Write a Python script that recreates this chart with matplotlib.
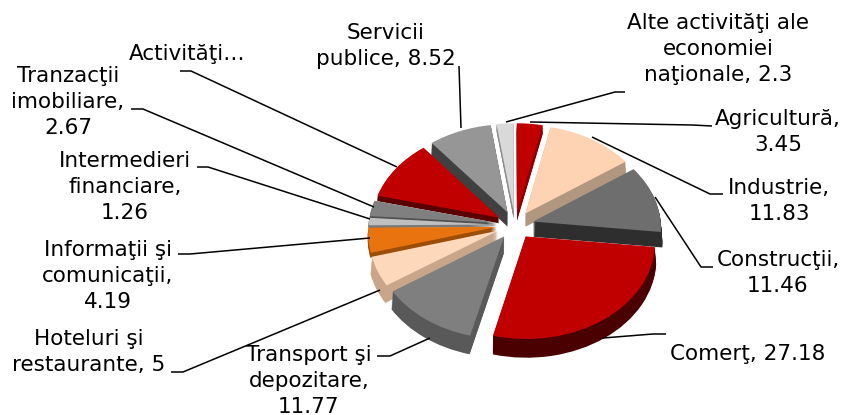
import matplotlib
matplotlib.use("Agg")
import matplotlib.pyplot as plt
from matplotlib.transforms import Transform
import numpy as np

# Data
categories = ["Agricultură", "Industrie", "Construcţii", "Comerţ", "Transport şi depozitare",
              "Hoteluri şi restaurante", "Informaţii şi comunicaţii", "Intermedieri financiare",
              "Tranzacţii imobiliare", "Activităţi…", "Servicii publice",
              "Alte activităţi ale economiei naţionale"]
values = [3.45, 11.83, 11.46, 27.18, 11.77, 5, 4.19, 1.26, 2.67, 10.37, 8.52, 2.3]
label_texts = ["Agricultură,\n3.45", "Industrie,\n11.83", "Construcţii,\n11.46", "Comerţ, 27.18",
               "Transport şi\ndepozitare,\n11.77", "Hoteluri şi\nrestaurante, 5",
               "Informaţii şi\ncomunicaţii,\n4.19", "Intermedieri\nfinanciare,\n1.26",
               "Tranzacţii\nimobiliare,\n2.67", "Activităţi…", "Servicii\npublice, 8.52",
               "Alte activităţi ale\neconomiei\nnaţionale, 2.3"]
top_colors = ["#C00000", "#FDD3B3", "#6E6E6E", "#C00000", "#7F7F7F", "#FDD8BA",
              "#E8730F", "#BFBFBF", "#808080", "#C00000", "#969696", "#D9D9D9"]
side_colors = ["#8E0000", "#B19680", "#2E2E2E", "#4A0000", "#595959", "#C9A68A",
               "#9C4E08", "#7A7A7A", "#4F4F4F", "#5A0000", "#404040", "#8C8C8C"]
depths = [10, 14, 16, 17, 17, 17, 5, 3, 3, 6, 15, 8]

# Layout (pixels)
W, H = 841, 415
CX, CY, RX, RY = 515, 225, 128, 95
EXPLODE = 0.145
PERSP = 0.06
label_pos = [(778, 132), (779, 201), (778, 273), (748, 354), (309, 381), (89, 352),
             (108, 276), (125, 187), (68, 102), (187, 54), (386, 46), (718, 49)]
leaders = [[(530, 122), (692, 125), (712, 126)],
           [(592, 137), (710, 194), (723, 194)],
           [(655, 197), (701, 267), (713, 267)],
           [(603, 338), (653, 334), (666, 334)],
           [(430, 338), (390, 356), (377, 356)],
           [(380, 290), (183, 372), (171, 372)],
           [(370, 238), (190, 254), (178, 254)],
           [(370, 219), (208, 167), (197, 167)],
           [(374, 207), (143, 109), (131, 109)],
           [(397, 167), (191, 71), (180, 71)],
           [(461, 128), (459, 66)],
           [(506, 122), (615, 92), (625, 92)]]


class Perspective(Transform):
    input_dims = output_dims = 2
    is_separable = False
    has_inverse = False

    def __init__(self, p):
        super().__init__()
        self.p = p

    def transform_non_affine(self, values):
        v = np.asarray(values, dtype=float)
        w = 1 + self.p * v[:, 1]
        return np.column_stack([v[:, 0] / w, v[:, 1] / w])


fig = plt.figure(figsize=(W / 100, H / 100), dpi=100, facecolor="white")
ax = fig.add_axes([0, 0, 1, 1])
proj = Perspective(PERSP) + ax.transData
explode = [EXPLODE] * len(values)
for d in range(max(depths), 0, -1):
    layer = [side_colors[i] if d <= depths[i] else "none" for i in range(len(values))]
    ax.pie(values, explode=explode, colors=layer, startangle=90, counterclock=False,
           center=(0, -d / 100), radius=1,
           wedgeprops={"linewidth": 0.6, "edgecolor": "none", "transform": proj})
ax.pie(values, explode=explode, colors=top_colors, startangle=90, counterclock=False,
       center=(0, 0), radius=1, wedgeprops={"linewidth": 0, "transform": proj})
ax.set_aspect("auto")
ax.set_xlim(-CX / RX, (W - CX) / RX)
ax.set_ylim(-(H - CY) / RY, CY / RY)
ax.axis("off")

ov = fig.add_axes([0, 0, 1, 1], facecolor="none")
ov.set_xlim(0, W)
ov.set_ylim(H, 0)
ov.axis("off")
for pts in leaders:
    ov.plot([p[0] for p in pts], [p[1] for p in pts], color="black", lw=1.1, solid_capstyle="butt")
for txt, (x, y) in zip(label_texts, label_pos):
    ov.text(x, y, txt, ha="center", va="center", fontsize=15.45, color="black",
            family="DejaVu Sans", linespacing=1.35)

fig.savefig("out.png", dpi=100)
